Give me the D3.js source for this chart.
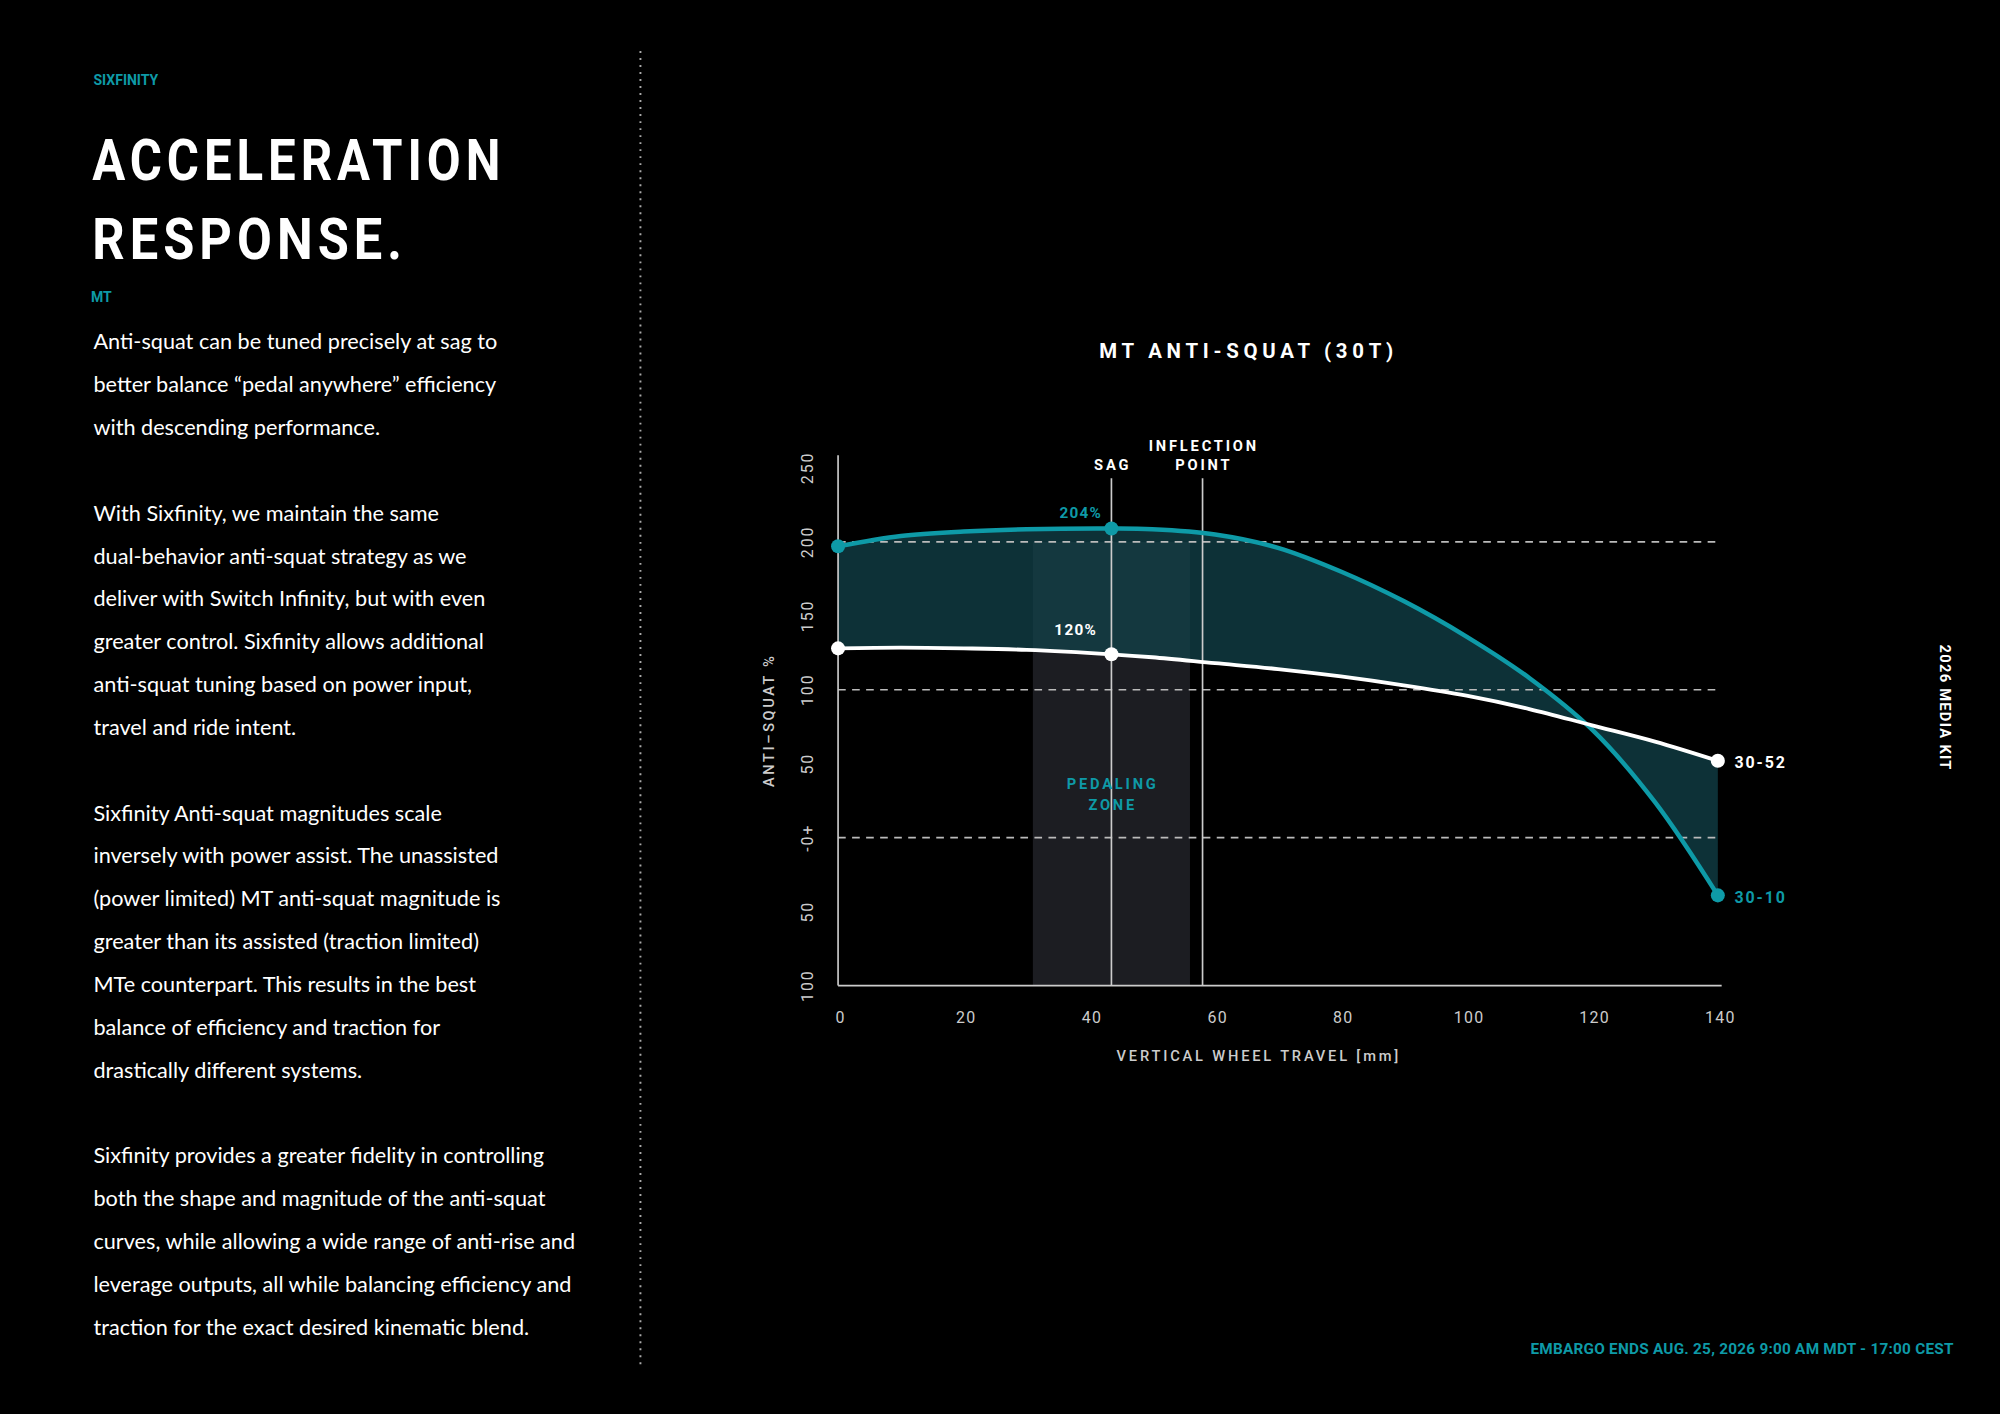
<!DOCTYPE html>
<html><head><meta charset="utf-8">
<script src="https://cdn.jsdelivr.net/npm/d3@7"></script>
<style>body{margin:0;background:#000;overflow:hidden}</style></head>
<body><svg id="c" width="2000" height="1414" viewBox="0 0 1568 1109"></svg>
<script>
const travel = [0,10,20,30,43.5,50,60,70,80,90,100,110,120,130,140];
const as3010 = [197,204,207,208.5,209,208.5,205,196,180,160,136,108,73,24,-39];
const as3052 = [128,128.5,128,127,124,122,118,114,109,103,96,87,76,65,52];
const xTicks = [0,20,40,60,80,100,120,140];
const yTicks = [250,200,150,100,50,0,-50,-100];
const yTickLabels = ["250","200","150","100","50","-0+","50","100"];
const dashed = [200,100,0];
const sag = 43.5, inflection = 58, zone = [31,56];
const bodyText = ["Anti-squat can be tuned precisely at sag to","better balance “pedal anywhere” efficiency","with descending performance.","","With Sixfinity, we maintain the same","dual-behavior anti-squat strategy as we","deliver with Switch Infinity, but with even","greater control. Sixfinity allows additional","anti-squat tuning based on power input,","travel and ride intent.","","Sixfinity Anti-squat magnitudes scale","inversely with power assist.  The unassisted","(power limited) MT anti-squat magnitude is","greater than its assisted (traction limited)","MTe counterpart. This results in the best","balance of efficiency and traction for","drastically different systems.","","Sixfinity provides a greater fidelity in controlling","both the shape and magnitude of the anti-squat","curves, while allowing a wide range of anti-rise and","leverage outputs, all while balancing efficiency and","traction for the exact desired kinematic blend."];

const svg = d3.select("#c");
const teal = "#0e9aa7";
svg.append("rect").attr("width",1568).attr("height",1109).attr("fill","#000");
svg.append("text").attr("x",73).attr("y",67).text("SIXFINITY").attr("fill",teal).attr("font-family","Roboto").attr("font-weight",700).attr("font-size",11);
["ACCELERATION","RESPONSE."].forEach((t,i)=>svg.append("text").attr("x",72).attr("y",141+i*62).text(t).attr("fill","#fff").attr("font-family","Roboto").attr("font-weight",700).attr("font-size",45).attr("letter-spacing",4.5).attr("textLength", i==0?324:247).attr("lengthAdjust","spacingAndGlyphs"));
svg.append("text").attr("x",71).attr("y",237).text("MT").attr("fill",teal).attr("font-family","Roboto").attr("font-weight",700).attr("font-size",11);
bodyText.forEach((t,i)=>svg.append("text").attr("x",73).attr("y",274+i*33.6).text(t).attr("fill","#fff").attr("font-family","Lato").attr("font-weight",400).attr("font-size",17));
svg.append("line").attr("x1",502).attr("x2",502).attr("y1",40).attr("y2",1070).attr("stroke","#aaa").attr("stroke-width",1.5).attr("stroke-dasharray","1.5 4");
svg.append("text").attr("transform","translate(1521,555) rotate(90)").attr("text-anchor","middle").text("2026 MEDIA KIT").attr("fill","#fff").attr("font-family","Roboto").attr("font-weight",700).attr("font-size",11.5).attr("letter-spacing",1);
svg.append("text").attr("x",1532).attr("y",1062).attr("text-anchor","end").text("EMBARGO ENDS AUG. 25, 2026 9:00 AM MDT - 17:00 CEST").attr("fill",teal).attr("font-family","Roboto").attr("font-weight",700).attr("font-size",12).attr("letter-spacing",0.2);

const x = d3.scaleLinear().domain([0,140]).range([657,1347]);
const y = d3.scaleLinear().domain([0,200]).range([657,425]);
svg.append("text").attr("x",979).attr("y",281).attr("text-anchor","middle").text("MT ANTI-SQUAT (30T)").attr("fill","#fff").attr("font-family","Roboto").attr("font-weight",700).attr("font-size",16).attr("letter-spacing",3.7);

const curve = d3.curveCatmullRom;
const pts1 = travel.map((t,i)=>[t,as3010[i]]), pts2 = travel.map((t,i)=>[t,as3052[i]]);
svg.append("rect").attr("x",x(zone[0])).attr("width",x(zone[1])-x(zone[0])).attr("y",y(200)).attr("height",y(-100)-y(200)).attr("fill","#1c1d22");
const area = d3.area().curve(curve).x((d,i)=>x(travel[i])).y0((d,i)=>y(as3052[i])).y1((d,i)=>y(as3010[i]));
svg.append("path").attr("d",area(travel)).attr("fill","#11414a").attr("opacity",0.75);
dashed.forEach(v=>svg.append("line").attr("x1",657).attr("x2",1350).attr("y1",y(v)).attr("y2",y(v)).attr("stroke","#bbb").attr("stroke-width",1.3).attr("stroke-dasharray","6 5"));
svg.append("line").attr("x1",657).attr("x2",657).attr("y1",357).attr("y2",y(-100)).attr("stroke","#ccc").attr("stroke-width",1.3);
svg.append("line").attr("x1",657).attr("x2",1350).attr("y1",y(-100)).attr("y2",y(-100)).attr("stroke","#ccc").attr("stroke-width",1.3);
xTicks.forEach(t=>svg.append("text").attr("x",x(t)+2).attr("y",802).attr("text-anchor","middle").text(t).attr("fill","#ccc").attr("font-family","Roboto").attr("font-size",12.5).attr("letter-spacing",1));
yTicks.forEach((t,i)=>svg.append("text").attr("transform",`translate(637,${y(t)}) rotate(-90)`).attr("text-anchor","middle").text(yTickLabels[i]).attr("fill","#ccc").attr("font-family","Roboto").attr("font-size",12.5).attr("letter-spacing",1.5));
svg.append("text").attr("transform","translate(607,565) rotate(-90)").attr("text-anchor","middle").text("ANTI–SQUAT %").attr("fill","#ccc").attr("font-family","Roboto").attr("font-weight",500).attr("font-size",11.5).attr("letter-spacing",2);
svg.append("text").attr("x",987).attr("y",832).attr("text-anchor","middle").text("VERTICAL WHEEL TRAVEL [mm]").attr("fill","#ccc").attr("font-family","Roboto").attr("font-weight",500).attr("font-size",11.5).attr("letter-spacing",2.2);
[sag,inflection].forEach(v=>svg.append("line").attr("x1",x(v)).attr("x2",x(v)).attr("y1",375).attr("y2",y(-100)).attr("stroke","#ccc").attr("stroke-width",1.3));
const lab=(tx,xx,yy,c="#fff",sz=11.5)=>svg.append("text").attr("x",xx).attr("y",yy).attr("text-anchor","middle").text(tx).attr("fill",c).attr("font-family","Roboto").attr("font-weight",700).attr("font-size",sz).attr("letter-spacing",2.2);
lab("SAG",x(sag)+1,369); lab("INFLECTION",x(inflection)+1,354); lab("POINT",x(inflection)+1,369);
lab("PEDALING",x(43.5)+1,619,teal); lab("ZONE",x(43.5)+1,635,teal);
const line = d3.line().curve(curve).x(d=>x(d[0])).y(d=>y(d[1]));
svg.append("path").attr("d",line(pts1)).attr("fill","none").attr("stroke",teal).attr("stroke-width",3.5);
svg.append("path").attr("d",line(pts2)).attr("fill","none").attr("stroke","#fff").attr("stroke-width",3);
[[0,as3010[0],teal],[sag,as3010[4],teal],[140,as3010[14],teal],[0,as3052[0],"#fff"],[sag,as3052[4],"#fff"],[140,as3052[14],"#fff"]].forEach(p=>svg.append("circle").attr("cx",x(p[0])).attr("cy",y(p[1])).attr("r",5.5).attr("fill",p[2]));
lab("204%",x(sag)-24,406,teal,12).attr("letter-spacing",1);
lab("120%",x(sag)-28,498,"#fff",12).attr("letter-spacing",1);
svg.append("text").attr("x",1360).attr("y",602).text("30-52").attr("fill","#fff").attr("font-family","Roboto").attr("font-weight",700).attr("font-size",12.5).attr("letter-spacing",1.5);
svg.append("text").attr("x",1360).attr("y",708).text("30-10").attr("fill",teal).attr("font-family","Roboto").attr("font-weight",700).attr("font-size",12.5).attr("letter-spacing",1.5);
</script></body></html>
